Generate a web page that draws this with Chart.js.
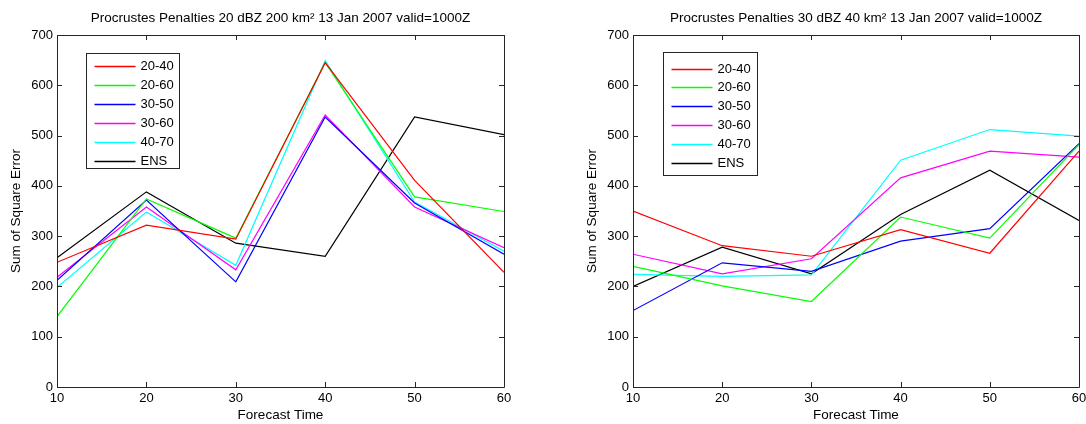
<!DOCTYPE html>
<html>
<head>
<meta charset="utf-8">
<script src="https://cdn.jsdelivr.net/npm/chart.js@4.4.1/dist/chart.umd.min.js"></script>
<style>
  body { margin: 0; background: #fff; overflow: hidden; width: 1086px; height: 424px; position: relative; }
  canvas { position: absolute; top: 0; }
  #chartA { left: 0; }
  #chartB { left: 543px; }
</style>
</head>
<body>
<canvas id="chartA" width="543" height="424"></canvas>
<canvas id="chartB" width="560" height="424"></canvas>
<script>
// forecast times (x axis) and series names
const forecastTimes = [10, 20, 30, 40, 50, 60];
const seriesNames = ["20-40", "20-60", "30-50", "30-60", "40-70", "ENS"];
const seriesColors = ["#ff0000", "#00ff00", "#0000ff", "#ff00ff", "#00ffff", "#000000"];
const yTicks = [0, 100, 200, 300, 400, 500, 600, 700];

// 20 dBZ 200 km2
const a20_40 = [248, 322, 294, 645, 411, 228];
const a20_60 = [140, 374, 296, 645, 378, 349];
const a30_50 = [212, 372, 209, 537, 366, 264];
const a30_60 = [218, 358, 233, 541, 358, 277];
const a40_70 = [198, 348, 242, 649, 368, 270];
const aENS = [257, 388, 286, 260, 537, 502];

// 30 dBZ 40 km2
const b20_40 = [350, 281, 260, 313, 266, 469];
const b20_60 = [240, 201, 170, 338, 296, 482];
const b30_50 = [152, 247, 230, 290, 315, 484];
const b30_60 = [264, 225, 255, 416, 469, 457];
const b40_70 = [224, 220, 223, 451, 512, 499];
const bENS = [200, 278, 225, 343, 431, 331];

const FAMILY = "'Liberation Sans', Arial, sans-serif";
const TICKFONT = { family: FAMILY, size: 13 };
const LABELFONT = { family: FAMILY, size: 13.5 };

// box round the plot with inward ticks on all four sides
const boxTicks = {
  id: "boxTicks",
  afterDatasetsDraw(chart) {
    const { ctx, chartArea: a, scales } = chart;
    ctx.save();
    ctx.strokeStyle = "#262626";
    ctx.lineWidth = 1;
    ctx.beginPath();
    ctx.rect(Math.round(a.left) + 0.5, Math.round(a.top) + 0.5,
      Math.round(a.right) - Math.round(a.left), Math.round(a.bottom) - Math.round(a.top));
    scales.x.ticks.forEach((t) => {
      const px = Math.round(scales.x.getPixelForValue(t.value)) + 0.5;
      ctx.moveTo(px, a.bottom); ctx.lineTo(px, a.bottom - 5);
      ctx.moveTo(px, a.top); ctx.lineTo(px, a.top + 5);
    });
    scales.y.ticks.forEach((t) => {
      const py = Math.round(scales.y.getPixelForValue(t.value)) + 0.5;
      ctx.moveTo(a.left, py); ctx.lineTo(a.left + 5, py);
      ctx.moveTo(a.right, py); ctx.lineTo(a.right - 5, py);
    });
    ctx.stroke();
    ctx.restore();
  }
};

// matlab style legend inside the axes
const boxLegend = {
  id: "boxLegend",
  afterDraw(chart, args, opts) {
    const { ctx, chartArea: a } = chart;
    const x0 = Math.round(a.left + opts.x) + 0.5;
    const y0 = Math.round(a.top + opts.y) + 0.5;
    ctx.save();
    ctx.fillStyle = "#fff";
    ctx.strokeStyle = "#262626";
    ctx.lineWidth = 1;
    ctx.fillRect(x0, y0, opts.w, opts.h);
    ctx.strokeRect(x0, y0, opts.w, opts.h);
    ctx.font = TICKFONT.size + "px " + FAMILY;
    ctx.textBaseline = "middle";
    chart.data.datasets.forEach((ds, i) => {
      const ry = Math.round(y0 + opts.row0 + i * opts.gap) + 0.5;
      ctx.strokeStyle = ds.borderColor;
      ctx.lineWidth = 1.3;
      ctx.beginPath();
      ctx.moveTo(x0 + 8, ry);
      ctx.lineTo(x0 + 49, ry);
      ctx.stroke();
      ctx.fillStyle = "#000";
      ctx.fillText(ds.label, x0 + 54, ry);
    });
    ctx.restore();
  }
};

function makeSets(values) {
  return values.map((v, i) => ({
    label: seriesNames[i],
    data: forecastTimes.map((t, j) => ({ x: t, y: v[j] })),
    borderColor: seriesColors[i],
    borderWidth: 1.2,
    pointRadius: 0,
    tension: 0,
    fill: false
  }));
}

function makeChart(id, title, values, pad, legend) {
  return new Chart(document.getElementById(id), {
    type: "line",
    data: { datasets: makeSets(values) },
    options: {
      responsive: false,
      animation: false,
      events: [],
      layout: { padding: pad },
      plugins: {
        legend: { display: false },
        tooltip: { enabled: false },
        title: {
          display: true, text: title, fullSize: false, color: "#000",
          font: { ...LABELFONT, weight: "normal" },
          padding: { top: 10, bottom: 8.8 }
        },
        boxLegend: legend
      },
      scales: {
        x: {
          type: "linear", min: 10, max: 60,
          afterBuildTicks: (s) => { s.ticks = forecastTimes.map((v) => ({ value: v })); },
          ticks: { color: "#000", font: TICKFONT, padding: 4, maxRotation: 0 },
          grid: { display: false, drawTicks: false },
          border: { display: false },
          title: { display: true, text: "Forecast Time", color: "#000", font: LABELFONT, padding: { top: 0, bottom: 1 } },
          afterFit: (s) => { s.height = 37; }
        },
        y: {
          min: 0, max: 700,
          afterBuildTicks: (s) => { s.ticks = yTicks.map((v) => ({ value: v })); },
          ticks: { color: "#000", font: TICKFONT, padding: 4 },
          grid: { display: false, drawTicks: false },
          border: { display: false },
          title: { display: true, text: "Sum of Square Error", color: "#000", font: LABELFONT, padding: { top: 8.4, bottom: 0 } },
          afterFit: (s) => { s.width = 57; }
        }
      }
    },
    plugins: [boxTicks, boxLegend]
  });
}

makeChart("chartA", "Procrustes Penalties 20 dBZ 200 km\u00b2 13 Jan 2007 valid=1000Z",
  [a20_40, a20_60, a30_50, a30_60, a40_70, aENS],
  { left: 0, right: 39, top: 0, bottom: 0 },
  { x: 29, y: 18, w: 93, h: 115, row0: 12, gap: 19 });

makeChart("chartB", "Procrustes Penalties 30 dBZ 40 km\u00b2 13 Jan 2007 valid=1000Z",
  [b20_40, b20_60, b30_50, b30_60, b40_70, bENS],
  { left: 33, right: 24, top: 0, bottom: 0 },
  { x: 30, y: 17, w: 94, h: 123, row0: 16, gap: 18.8 });
</script>
</body>
</html>
